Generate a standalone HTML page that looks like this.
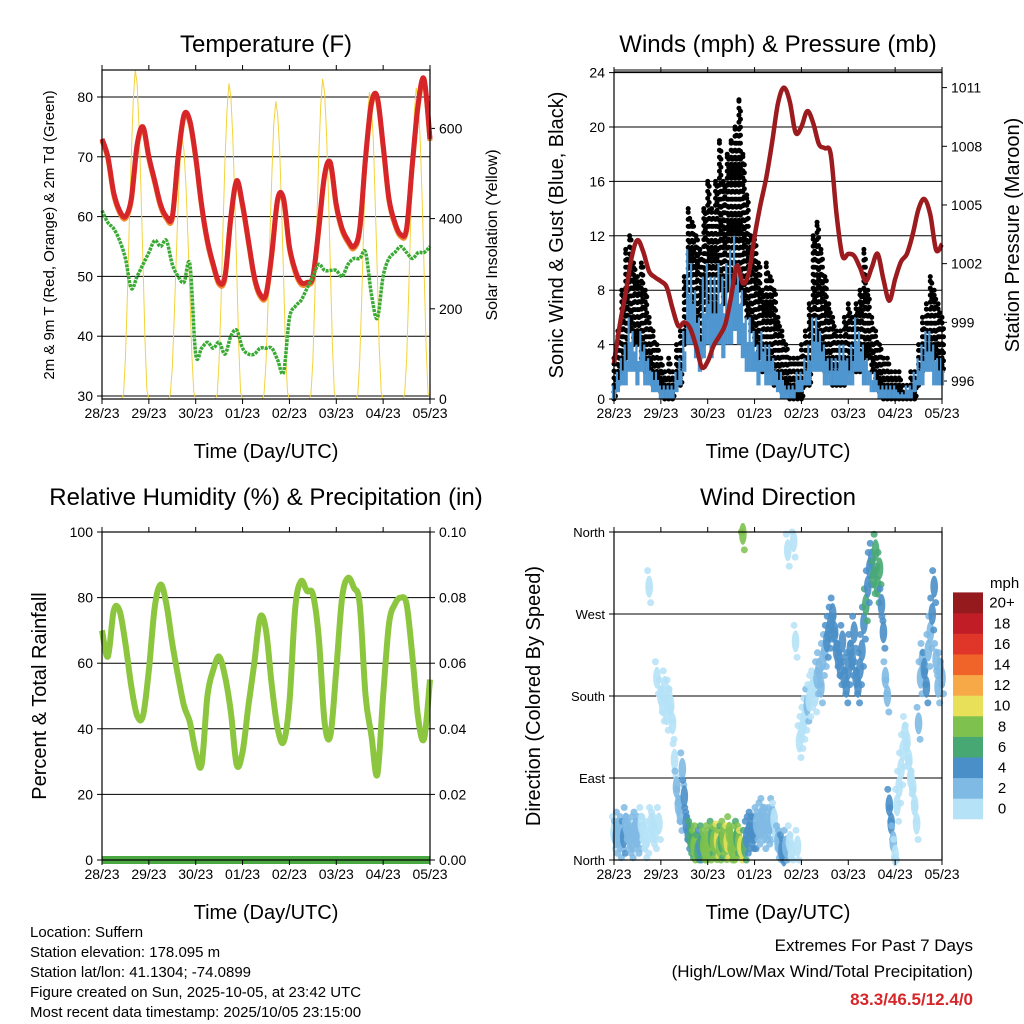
<!DOCTYPE html>
<html><head><meta charset="utf-8"><style>
html,body{margin:0;padding:0;background:#fff}
svg{display:block;font-family:"Liberation Sans",sans-serif}
</style></head><body>
<svg id="s" width="1024" height="1024" viewBox="0 0 1024 1024" xmlns="http://www.w3.org/2000/svg"></svg>
<script>
// ---------- DATA ----------
const dayLabels = ["28/23","29/23","30/23","01/23","02/23","03/23","04/23","05/23"];
// temperature every 3 hours (F)
const tempRed = [73,70,64,61,60,63,72,75, 70,66,62,60,60,70,77,76, 70,62,56,52,49,50,60,66, 62,56,50,47,47,54,63,63, 55,51,49,49,50,58,67,69, 62,58,56,55,58,70,79,80, 72,63,59,57,58,69,79,83, 73];
const dewGreen = [61,59,58,56,53,48,50,52, 54,56,55,56,52,50,49,52, 37,38,39,38,39,37,40,41, 38,37,37,38,38,38,36,34, 43,45,46,48,50,52,51,51, 51,50,52,53,53,54,47,43, 50,53,54,55,54,53,54,54, 55];
// solar insolation hourly, hours 11..23 of each day
const solarStartHour = 11;
const solarDay28 = [10,90,230,390,540,660,730,700,600,460,300,130,20];
const solarDay29 = [10,70,180,310,430,530,580,550,470,360,230,100,15];
const solarDay30 = [10,85,220,380,530,640,700,670,580,440,290,120,15];
const solarDay01 = [10,80,210,360,500,610,660,630,550,420,270,110,15];
const solarDay02 = [10,85,225,385,535,650,710,680,590,450,290,120,15];
const solarDay03 = [10,85,220,375,520,630,680,650,570,430,280,115,15];
const solarDay04 = [10,85,220,380,525,640,690,660,575,440,285,115,15];
const solarDays = [solarDay28,solarDay29,solarDay30,solarDay01,solarDay02,solarDay03,solarDay04];
const tempTicks = [30,40,50,60,70,80];
const solarTicks = [0,200,400,600];
// winds every 2 hours (mph)
const gustHi = [3,5,8,11,12,10,9,10,8,6, 5,4,3,2,3,2,4,5,9,14, 13,12,11,14,16,14,16,19,16,18, 19,20,22,18,15,12,12,10,8,10, 9,8,6,5,4,3,3,3,4,5, 7,12,13,11,9,7,6,5,5,6, 7,6,7,8,11,8,6,5,4,3, 3,2,2,2,1,1,2,2,4,6, 7,9,8,7,6];
const gustLo = [0,1,2,3,5,4,4,3,2,2, 1,1,0.5,0,0,0,1,1,4,6, 6,5,3,4,6,6,6,8,7,8, 8,8,8,7,6,5,4,3,2,2, 2,1,1,0.5,0.5,0,0,0,0,1, 1,3,4,3,2,2,1,1,1,1, 2,2,2,2,3,3,2,1,0.5,0, 0,0,0,0,0,0,0,0,1,2, 3,3,3,2,2];
const windHi = [1,2,3,4,6,5,4,5,4,3, 2,2,1,1,1,1,2,3,5,11, 10,8,6,9,10,9,9,10,9,10, 11,12,10,8,6,6,5,4,5,4, 4,3,2,2,1,1,1,2,2,3, 4,6,6,5,4,3,3,3,4,4, 3,4,6,5,4,3,2,2,1,1, 1,1,1,0.5,0.5,1,1,2,3,4, 5,5,4,3,3];
const windLo = [0,0.5,1,1,2,2,1,2,1,1, 0.5,0.5,0,0,0,0,0.5,1,2,4, 4,3,2,3,4,3,4,4,3,4, 4,5,4,3,2,2,2,1,2,1, 1,1,0.5,0,0,0,0,0.5,0.5,1, 1,2,2,2,1,1,1,1,1,1, 1,1,2,2,1,1,0.5,0.5,0,0, 0,0,0,0,0,0,0,0.5,1,1, 2,2,1,1,1];
// pressure every 3 hours (mb)
const pressure = [996.9,998.9,1000.5,1002.3,1003.2,1002.6,1001.6,1001.3, 1001.1,1000.8,999.7,998.8,999,998.7,997.8,996.7, 997.0,997.8,998.3,998.9,1000.3,1001.9,1001.0,1001.5, 1003.4,1005.0,1006.4,1008.2,1010.2,1011.0,1010.3,1008.7, 1009.0,1009.8,1009.2,1008.1,1007.9,1007.6,1004.5,1002.4, 1002.5,1002.4,1001.8,1001.1,1001.8,1002.5,1001.2,1000.1, 1001.2,1002.1,1002.5,1003.5,1004.8,1005.3,1004.5,1002.7, 1003];
const windTicks = [0,4,8,12,16,20,24];
const presTicks = [996,999,1002,1005,1008,1011];
// RH every 3 hours (%)
const rh = [70,62,76,76,66,53,44,44, 58,77,84,78,66,56,47,42, 33,29,50,58,62,56,45,29, 33,47,60,74,70,53,40,36, 48,77,85,82,81,68,42,38, 58,80,86,83,78,50,38,26, 50,72,78,80,78,62,43,37, 55];
const precip = [0,0,0,0,0,0,0,0];
const rhTicks = [0,20,40,60,80,100];
const precipTicks = ["0.00","0.02","0.04","0.06","0.08","0.10"];
// wind direction hourly (deg) and speed (mph)
const windDir = [30,25,35,20,30,25,40,30,25,20,30,35,25,30,40,30,20,25,300,40,35,30,200,40,
180,170,190,160,180,170,150,110,80,60,50,100,70,40,30,25,20,15,20,10,15,20,15,10,
20,15,25,20,18,22,15,20,25,18,20,30,15,10,20,25,20,15,358,15,25,30,35,30,
30,40,35,45,50,30,40,35,40,50,45,30,20,15,10,5,15,340,20,10,350,240,15,130,
140,150,160,170,175,185,190,180,200,210,190,220,230,240,250,260,270,250,230,220,210,240,200,190,
210,230,220,250,200,190,210,230,260,280,300,320,330,310,340,300,320,280,250,200,180,60,40,20,
5,60,80,100,120,140,130,110,90,80,60,40,150,200,220,210,190,230,250,270,300,220,190,210,200];
const windSpd = [1,2,2,3,3,4,3,3,2,2,2,3,2,2,1,1,1,1,1,1,1,0.5,1,1,
1,1,0.5,0.5,1,1,1,1,2,3,3,3,4,5,5,6,7,9,8,6,5,7,8,9,
9,8,7,8,9,10,8,7,8,9,10,9,8,9,8,7,9,10,8,6,5,5,4,4,
4,3,3,3,2,2,2,3,2,2,1,1,3,3,4,4,3,1,1,1,1,1,1,1,
1,1,1,2,1,1,1,1,2,2,2,3,3,4,4,5,5,4,5,5,4,4,4,4,
4,4,4,5,5,4,4,4,5,6,5,5,5,6,7,7,6,5,4,3,3,4,4,3,
1,1,1,1,1,1,1,1,1,1,1,1,2,3,3,4,4,3,3,4,4,3,3,3,3];
const dirTicks = ["North","East","South","West","North"];
const speedBins = ["0","2","4","6","8","10","12","14","16","18","20+"];
const speedColors = ["#b5e2f7","#7fbae4","#4a8fc8","#48a874","#7ec14e","#e7e058","#f8a947","#f0642a","#e0362a","#c01d26","#951a1e"];

// ---------- HELPERS ----------
const S = document.getElementById('s');
const NS = "http://www.w3.org/2000/svg";
function mk(tag, attrs, parent){
  const e = document.createElementNS(NS, tag);
  for (const k in attrs) e.setAttribute(k, attrs[k]);
  (parent||S).appendChild(e);
  return e;
}
function txt(str, x, y, size, anchor, parent, extra){
  const e = mk('text', Object.assign({x:x, y:y, 'font-size':size, 'text-anchor':anchor||'middle', fill:'#000'}, extra||{}), parent);
  e.textContent = str;
  return e;
}
function rtxt(str, x, y, size, parent){
  const e = mk('text', {x:0, y:0, 'font-size':size, 'text-anchor':'middle', fill:'#000', transform:'translate('+x+','+y+') rotate(-90)'}, parent);
  e.textContent = str;
  return e;
}
function panel(name, L, T, R, B){
  const g = mk('g', {});
  
  
  return {g:g, L:L, T:T, R:R, B:B, xs:(h)=>L + h*(R-L)/168};
}
function frame(p){
  const r = mk('rect', {x:p.L, y:p.T, width:p.R-p.L, height:p.B-p.T, fill:'none', stroke:'#000', 'stroke-width':1.2}, p.g);
  
  
}
function xAxis(p){
  for (let i=0;i<dayLabels.length;i++){
    const x = p.xs(i*24);
    const tk = mk('line', {x1:x, y1:p.B, x2:x, y2:p.B+5, stroke:'#000'}, p.g);
    
    
    const tk2 = mk('line', {x1:x, y1:p.T, x2:x, y2:p.T-5, stroke:'#000'}, p.g);
    
    
    const t = txt(dayLabels[i], x, p.B+19, 14, 'middle', p.g);
    
    
  }
  const at = txt('Time (Day/UTC)', (p.L+p.R)/2, p.B+59, 20, 'middle', p.g);
  
  
}
function hgrid(p, y){
  const l = mk('line', {x1:p.L, y1:y, x2:p.R, y2:y, stroke:'#000', 'stroke-width':1}, p.g);
  
  
}
function ytick(p, y, label, side, size){
  const x = side==='left' ? p.L : p.R;
  const d = side==='left' ? -5 : 5;
  const tk = mk('line', {x1:x, y1:y, x2:x+d, y2:y, stroke:'#000'}, p.g);
  
  
  const t = txt(label, side==='left' ? x-9 : x+9, y+5, size||14, side==='left' ? 'end' : 'start', p.g);
  
  
}
function linePath(xs, ys){
  let d = '';
  for (let i=0;i<xs.length;i++) d += (i?'L':'M') + xs[i].toFixed(1) + ' ' + ys[i].toFixed(1);
  return d;
}
function smoothPath(xs, ys){
  let d = 'M' + xs[0].toFixed(1) + ' ' + ys[0].toFixed(1);
  for (let i=0;i<xs.length-1;i++){
    const x0 = xs[Math.max(0,i-1)], y0 = ys[Math.max(0,i-1)];
    const x1 = xs[i], y1 = ys[i], x2 = xs[i+1], y2 = ys[i+1];
    const x3 = xs[Math.min(xs.length-1,i+2)], y3 = ys[Math.min(xs.length-1,i+2)];
    const c1x = x1 + (x2-x0)/6, c1y = y1 + (y2-y0)/6;
    const c2x = x2 - (x3-x1)/6, c2y = y2 - (y3-y1)/6;
    d += 'C' + c1x.toFixed(1)+' '+c1y.toFixed(1)+' '+c2x.toFixed(1)+' '+c2y.toFixed(1)+' '+x2.toFixed(1)+' '+y2.toFixed(1);
  }
  return d;
}

// ---------- PANEL 1: TEMPERATURE ----------
(function(){
  const p = panel('temperature-panel', 102, 70, 430, 399);
  const yT = v => 396 - (v-30)*5.98;
  const yS = v => Math.max(p.T, 399 - v*0.451);
  tempTicks.forEach(v => { hgrid(p, yT(v)); ytick(p, yT(v), String(v), 'left'); });
  solarTicks.forEach(v => ytick(p, yS(v), String(v), 'right'));
  solarDays.forEach((arr, di) => {
    const xs = [], ys = [];
    xs.push(p.xs(di*24 + solarStartHour - 1)); ys.push(yS(0));
    arr.forEach((v, j) => { xs.push(p.xs(di*24 + solarStartHour + j)); ys.push(yS(v)); });
    xs.push(p.xs(di*24 + solarStartHour + arr.length)); ys.push(yS(0));
    const s = mk('path', {d:linePath(xs, ys), fill:'none', stroke:'#f3d33b', 'stroke-width':1}, p.g);
    
    
  });
  const hx = tempRed.map((v,i)=>p.xs(i*3));
  const orange = mk('path', {d:smoothPath(hx, tempRed.map(v=>yT(v)+2)), fill:'none', stroke:'#f08a2c', 'stroke-width':5, 'stroke-linejoin':'round'}, p.g);
  
  
  const red = mk('path', {d:smoothPath(hx, tempRed.map(yT)), fill:'none', stroke:'#d7262a', 'stroke-width':5, 'stroke-linejoin':'round'}, p.g);
  
  
  const gr = mk('path', {d:smoothPath(dewGreen.map((v,i)=>p.xs(i*3)), dewGreen.map(yT)), fill:'none', stroke:'#3aaa35', 'stroke-width':3.5, 'stroke-dasharray':'3 1'}, p.g);
  
  
  frame(p); xAxis(p);
  const t = txt('Temperature (F)', 266, 52, 24, 'middle', p.g);
  
  
  const yl = rtxt('2m & 9m T (Red, Orange) & 2m Td (Green)', 54, 235, 15, p.g);
  
  
  const yr = rtxt('Solar Insolation (Yellow)', 497, 235, 16, p.g);
  
  
})();

// ---------- PANEL 2: WINDS & PRESSURE ----------
(function(){
  const p = panel('winds-pressure-panel', 614, 72, 942, 399);
  const yW = v => 399 - v*13.6;
  const yP = v => 381 - (v-996)*19.56;
  windTicks.forEach(v => { hgrid(p, yW(v)); ytick(p, yW(v), String(v), 'left'); });
  presTicks.forEach(v => ytick(p, yP(v), String(v), 'right'));
  const top2 = mk('line', {x1:p.L, y1:70, x2:p.R, y2:70, stroke:'#000'}, p.g);
  
  
  gustHi.forEach((v,i) => {
    const x = p.xs(i*2);
    const b = mk('line', {x1:x, y1:yW(gustLo[i]), x2:x, y2:yW(v), stroke:'#000', 'stroke-width':5, 'stroke-linecap':'round', 'stroke-dasharray':'0 7'}, p.g);
    
    
    const b2 = mk('line', {x1:x+1.5, y1:yW(gustLo[i])-3, x2:x+1.5, y2:yW(v)+4, stroke:'#000', 'stroke-width':5, 'stroke-linecap':'round', 'stroke-dasharray':'0 8'}, p.g);
    
    
    const c = mk('circle', {cx:x, cy:yW(v), r:2.5, fill:'#000'}, p.g);
    
    
  });
  windHi.forEach((v,i) => {
    const x = p.xs(i*2);
    const b = mk('line', {x1:x-1, y1:yW(windLo[i]), x2:x-1, y2:yW(v), stroke:'#4f96d0', 'stroke-width':2.2}, p.g);
    
    
    const b2 = mk('line', {x1:x+1, y1:yW(windLo[i]), x2:x+1, y2:yW(v*0.7), stroke:'#4f96d0', 'stroke-width':2.2}, p.g);
    
    
  });
  const pr = mk('path', {d:smoothPath(pressure.map((v,i)=>p.xs(i*3)), pressure.map(yP)), fill:'none', stroke:'#9b1b1f', 'stroke-width':4.5, 'stroke-linejoin':'round'}, p.g);
  
  
  frame(p); xAxis(p);
  const t = txt('Winds (mph) & Pressure (mb)', 778, 52, 24, 'middle', p.g);
  
  
  const yl = rtxt('Sonic Wind & Gust (Blue, Black)', 563, 235, 20, p.g);
  
  
  const yr = rtxt('Station Pressure (Maroon)', 1019, 235, 20, p.g);
  
  
})();

// ---------- PANEL 3: RH & PRECIP ----------
(function(){
  const p = panel('humidity-precip-panel', 102, 532, 430, 860);
  const yR = v => 860 - v*3.28;
  rhTicks.forEach((v,i) => { hgrid(p, yR(v)); ytick(p, yR(v), String(v), 'left'); ytick(p, yR(v), precipTicks[i], 'right'); });
  const r = mk('path', {d:smoothPath(rh.map((v,i)=>p.xs(i*3)), rh.map(yR)), fill:'none', stroke:'#8cc63f', 'stroke-width':6, 'stroke-linejoin':'round'}, p.g);
  
  
  const yPc = v => 860 - v*3280;
  const pc = mk('path', {d:linePath(precip.map((v,i)=>p.xs(i*24)), precip.map(yPc)), fill:'none', stroke:'#4aa843', 'stroke-width':8}, p.g);
  
  
  frame(p); xAxis(p);
  const t = txt('Relative Humidity (%) & Precipitation (in)', 266, 505, 24, 'middle', p.g);
  
  
  const yl = rtxt('Percent & Total Rainfall', 46, 696, 20, p.g);
  
  
})();

// ---------- PANEL 4: WIND DIRECTION ----------
(function(){
  const p = panel('wind-direction-panel', 614, 532, 942, 860);
  const yD = v => 860 - v*0.9111;
  dirTicks.forEach((lab,i) => { hgrid(p, yD(i*90)); ytick(p, yD(i*90), lab, 'left', 13); });
  const col = s => speedColors[Math.min(10, Math.floor(s/2))];
  windDir.forEach((d,i) => {
    const cx = p.xs(i), cy = yD(d);
    const e = mk('ellipse', {cx:cx, cy:cy, rx:3.8, ry:11, fill:col(windSpd[i]), opacity:0.9}, p.g);
    
    
    const e2 = mk('circle', {cx:cx+1.5, cy:Math.min(p.B, cy+16), r:3.5, fill:col(windSpd[i]), opacity:0.85}, p.g);
    
    
    const e3 = mk('circle', {cx:cx-1.5, cy:Math.max(p.T, cy-16), r:3.5, fill:col(windSpd[i]), opacity:0.85}, p.g);
    
    
  });
  frame(p); xAxis(p);
  const t = txt('Wind Direction', 778, 505, 24, 'middle', p.g);
  
  
  const yl = rtxt('Direction (Colored By Speed)', 540, 696, 20, p.g);
  
  
  const cb = mk('g', {});
  
  
  const u = txt('mph', 990, 588, 15, 'start', cb);
  
  
  const h = 20.6;
  speedBins.forEach((lab,i) => {
    const y = 819 - (i+1)*h;
    const r = mk('rect', {x:953, y:y, width:30, height:h+0.3, fill:speedColors[i]}, cb);
    
    
    const t2 = txt(lab, 1002, y+h/2+5, 15, 'middle', cb);
    
    
  });
})();

// ---------- FOOTER ----------
(function(){
  const g = mk('g', {});
  
  
  const lines = ["Location: Suffern","Station elevation: 178.095 m","Station lat/lon: 41.1304; -74.0899","Figure created on Sun, 2025-10-05, at 23:42 UTC","Most recent data timestamp: 2025/10/05 23:15:00"];
  lines.forEach((s,i) => {
    const t = txt(s, 30, 937 + i*20, 15, 'start', g);
    
    
  });
  const g2 = mk('g', {});
  
  
  const a = txt('Extremes For Past 7 Days', 973, 951, 17, 'end', g2);
  
  
  const b = txt('(High/Low/Max Wind/Total Precipitation)', 973, 977, 17, 'end', g2);
  
  
  const c = txt('83.3/46.5/12.4/0', 973, 1005, 17, 'end', g2, {fill:'#d7262a', 'font-weight':'bold'});
  
  
})();
</script>
</body></html>
